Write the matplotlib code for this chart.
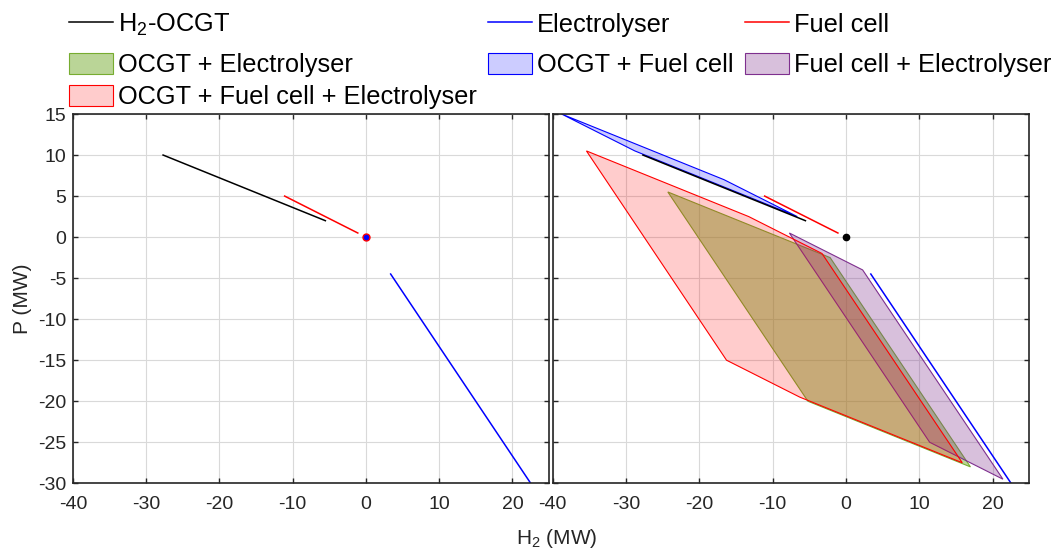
import matplotlib.pyplot as plt

plt.rcParams['font.family'] = ['Liberation Sans', 'DejaVu Sans']
plt.rcParams['mathtext.fontset'] = 'custom'
plt.rcParams['mathtext.rm'] = 'Liberation Sans'
plt.rcParams['mathtext.it'] = 'Liberation Sans:italic'
plt.rcParams['axes.unicode_minus'] = False

# single units: H2 (MW) vs P (MW), end points of the operating line
ocgt_h2 = [-27.7, -5.54]
ocgt_p = [10, 2]
fc_h2 = [-11.1, -1.11]
fc_p = [5, 0.5]
el_h2 = [3.375, 22.5]
el_p = [-4.5, -30]
off_h2 = [0]
off_p = [0]

# combined operating regions (corners of the polygons)
ocgt_el_h2 = [-24.3, -2.17, 16.96, -5.2]
ocgt_el_p = [5.5, -2.5, -28, -20]
ocgt_fc_h2 = [-38.8, -16.65, -6.65, -28.8]
ocgt_fc_p = [15, 7, 2.5, 10.5]
fc_el_h2 = [-7.73, 2.26, 21.39, 11.4]
fc_el_p = [0.5, -4.0, -29.5, -25]
all_h2 = [-35.4, -16.3, -6.31, 15.85, -3.28, -13.27]
all_p = [10.5, -15, -19.5, -27.5, -2, 2.5]

x_ticks = [-40, -30, -20, -10, 0, 10, 20]
y_ticks = [-30, -25, -20, -15, -10, -5, 0, 5, 10, 15]

GREEN = (0.466, 0.674, 0.188)
PURPLE = (0.494, 0.184, 0.556)
AX_COL = (0.15, 0.15, 0.15)

W, H = 1056, 556
fig = plt.figure(figsize=(W / 100, H / 100), dpi=100)


def style_axes(ax):
    ax.set_xlim(-40, 25)
    ax.set_ylim(-30, 15)
    ax.set_xticks(x_ticks)
    ax.set_yticks(y_ticks)
    ax.grid(True, color=(0.85, 0.85, 0.85), linewidth=0.8)
    ax.set_axisbelow(True)
    ax.tick_params(direction="in", length=3.6, width=1.0, top=True, right=True,
                   labelsize=14, colors=AX_COL, labelcolor=AX_COL)
    ax.tick_params(axis="x", pad=9)
    ax.tick_params(axis="y", pad=5)
    for s in ax.spines.values():
        s.set_color(AX_COL)
        s.set_linewidth(1.2)


ax_l = fig.add_axes([73 / W, 1 - 483.3 / H, 476 / W, 369.3 / H])
ax_r = fig.add_axes([552.7 / W, 1 - 483.3 / H, 476.7 / W, 369.3 / H])
style_axes(ax_l)
style_axes(ax_r)
ax_r.set_yticklabels([])

# left panel: single units
ax_l.plot(ocgt_h2, ocgt_p, color="black", lw=1.1)
ax_l.plot(el_h2, el_p, color="blue", lw=1.1)
ax_l.plot(fc_h2, fc_p, color="red", lw=1.1)
ax_l.plot(off_h2, off_p, "o", ms=5, mfc="blue", mec="red", mew=1.0)

# right panel: combinations
p_oe = ax_r.fill(ocgt_el_h2, ocgt_el_p, facecolor=GREEN + (0.5,), edgecolor=GREEN, lw=0.8)[0]
p_fe = ax_r.fill(fc_el_h2, fc_el_p, facecolor=PURPLE + (0.3,), edgecolor=PURPLE, lw=0.8)[0]
p_all = ax_r.fill(all_h2, all_p, facecolor=(1, 0, 0, 0.2), edgecolor="red", lw=0.8)[0]
l_ocgt = ax_r.plot(ocgt_h2, ocgt_p, color="black", lw=1.1)[0]
p_of = ax_r.fill(ocgt_fc_h2, ocgt_fc_p, facecolor=(0, 0, 1, 0.2), edgecolor="blue", lw=0.8)[0]
l_el = ax_r.plot(el_h2, el_p, color="blue", lw=1.1)[0]
l_fc = ax_r.plot(fc_h2, fc_p, color="red", lw=1.1)[0]
ax_r.plot(off_h2, off_p, "o", ms=4.5, color="black")

fig.text(22.5 / W, 1 - 298.5 / H, "P (MW)", rotation=90, ha="center", va="center",
         fontsize=15, color=AX_COL)
fig.text(557 / W, 1 - 544.5 / H, "H$_\\mathregular{2}$ (MW)", ha="center", va="baseline",
         fontsize=15, color=AX_COL)

# legend, one entry at a time so rows line up like the original
col_x = [69, 488, 745]
row_y = [25, 65, 97]
entries = [
    (l_ocgt, "H$_\\mathregular{2}$-OCGT", 0, 0),
    (l_el, "Electrolyser", 1, 0),
    (l_fc, "Fuel cell", 2, 0),
    (p_oe, "OCGT + Electrolyser", 0, 1),
    (p_of, "OCGT + Fuel cell", 1, 1),
    (p_fe, "Fuel cell + Electrolyser", 2, 1),
    (p_all, "OCGT + Fuel cell + Electrolyser", 0, 2),
]
for handle, label, c, r in entries:
    fig.legend([handle], [label], loc="center left",
               bbox_to_anchor=(col_x[c] / W, 1 - row_y[r] / H),
               frameon=False, fontsize=18.3, borderpad=0, borderaxespad=0,
               handlelength=1.73, handleheight=0.9, handletextpad=0.18)

fig.savefig("out.png", dpi=100)
